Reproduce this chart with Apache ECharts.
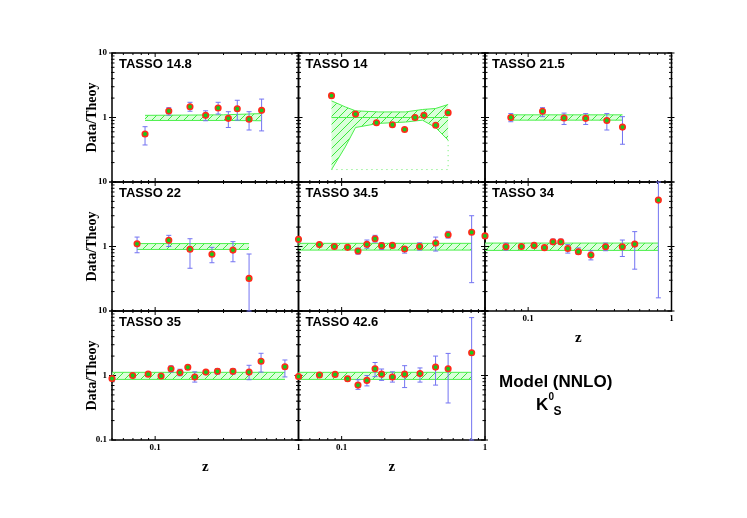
<!DOCTYPE html>
<html>
<head>
<meta charset="utf-8">
<script src="https://cdn.jsdelivr.net/npm/echarts@6.0.0/dist/echarts.min.js"></script>
<style>
  html, body { margin: 0; padding: 0; background: #fff; }
  #chart { width: 747px; height: 518px; }
</style>
</head>
<body>
<div id="chart"></div>
<script>
// ---- data ----
const panelNames = ["TASSO 14.8", "TASSO 14", "TASSO 21.5", "TASSO 22", "TASSO 34.5", "TASSO 34", "TASSO 35", "TASSO 42.6"];

const tasso148Z = [0.085, 0.1245, 0.175, 0.225, 0.275, 0.324, 0.374, 0.452, 0.553];
const tasso148V = [0.555, 1.26, 1.47, 1.08, 1.40, 0.97, 1.37, 0.94, 1.29];
const tasso148Lo = [0.375, 1.09, 1.25, 0.89, 1.13, 0.70, 0.91, 0.64, 0.62];
const tasso148Hi = [0.72, 1.42, 1.72, 1.27, 1.72, 1.23, 1.85, 1.23, 1.93];
const tasso148BandZ = [0.085, 0.3, 0.553];
const tasso148BandLo = [0.9, 0.9, 0.89];
const tasso148BandHi = [1.08, 1.1, 1.15];

const tasso14Z = [0.085, 0.125, 0.175, 0.226, 0.275, 0.325, 0.375, 0.453, 0.553];
const tasso14V = [2.18, 1.13, 0.83, 0.77, 0.65, 1.0, 1.08, 0.76, 1.19];
const tasso14Lo = [2.1, 1.09, 0.8, 0.74, 0.63, 0.97, 1.04, 0.73, 1.14];
const tasso14Hi = [2.26, 1.17, 0.86, 0.8, 0.67, 1.03, 1.12, 0.79, 1.24];
const tasso14BandZ = [0.085, 0.106, 0.125, 0.181, 0.279, 0.366, 0.452, 0.553];
const tasso14BandLo = [0.156, 0.35, 0.70, 0.81, 0.85, 0.91, 0.70, 0.445];
const tasso14BandHi = [1.81, 1.46, 1.27, 1.22, 1.22, 1.33, 1.38, 1.59];
const tasso14EdgeZ = [0.553, 0.553, 0.085];
const tasso14EdgeV = [0.445, 0.156, 0.156];

const tasso215Z = [0.0757, 0.126, 0.178, 0.252, 0.354, 0.455];
const tasso215V = [1.0, 1.25, 0.98, 0.97, 0.90, 0.71];
const tasso215Lo = [0.86, 1.03, 0.78, 0.78, 0.64, 0.385];
const tasso215Hi = [1.15, 1.42, 1.17, 1.15, 1.15, 1.03];
const tasso215BandZ = [0.0757, 0.455];
const tasso215BandLo = [0.91, 0.91];
const tasso215BandHi = [1.1, 1.1];

const tasso22Z = [0.0748, 0.1245, 0.175, 0.249, 0.349, 0.452];
const tasso22V = [1.10, 1.25, 0.905, 0.76, 0.88, 0.32];
const tasso22Lo = [0.80, 1.0, 0.46, 0.56, 0.58, 0.1];
const tasso22Hi = [1.40, 1.49, 1.32, 0.97, 1.19, 0.765];
const tasso22BandZ = [0.0748, 0.452];
const tasso22BandLo = [0.9, 0.9];
const tasso22BandHi = [1.11, 1.11];

const tasso345Z = [0.05, 0.070, 0.089, 0.110, 0.130, 0.150, 0.171, 0.190, 0.226, 0.275, 0.35, 0.453, 0.553, 0.807];
const tasso345V = [1.29, 1.07, 1.0, 0.97, 0.85, 1.08, 1.32, 1.03, 1.04, 0.915, 1.0, 1.13, 1.52, 1.66];
const tasso345Lo = [1.18, 1.02, 0.96, 0.93, 0.76, 0.94, 1.17, 0.90, 0.99, 0.79, 0.88, 0.85, 1.35, 0.275];
const tasso345Hi = [1.40, 1.12, 1.04, 1.01, 0.94, 1.26, 1.49, 1.14, 1.09, 1.0, 1.14, 1.40, 1.72, 3.0];
const tasso345BandZ = [0.05, 0.807];
const tasso345BandLo = [0.88, 0.88];
const tasso345BandHi = [1.12, 1.12];

const tasso34Z = [0.05, 0.070, 0.0897, 0.110, 0.130, 0.149, 0.169, 0.189, 0.224, 0.274, 0.347, 0.454, 0.554, 0.81];
const tasso34V = [1.46, 0.99, 1.0, 1.04, 0.96, 1.18, 1.18, 0.93, 0.83, 0.74, 0.99, 0.99, 1.09, 5.24];
const tasso34Lo = [1.36, 0.88, 0.95, 0.96, 0.91, 1.08, 1.08, 0.79, 0.76, 0.62, 0.86, 0.70, 0.445, 0.16];
const tasso34Hi = [1.56, 1.13, 1.05, 1.12, 1.01, 1.30, 1.30, 1.07, 0.95, 0.86, 1.13, 1.26, 1.70, 10];
const tasso34BandZ = [0.05, 0.81];
const tasso34BandLo = [0.87, 0.87];
const tasso34BandHi = [1.13, 1.13];

const tasso35Z = [0.05, 0.0697, 0.0894, 0.110, 0.129, 0.149, 0.169, 0.189, 0.226, 0.272, 0.349, 0.452, 0.548, 0.804];
const tasso35V = [0.90, 1.0, 1.05, 0.98, 1.27, 1.11, 1.34, 0.95, 1.13, 1.16, 1.16, 1.13, 1.66, 1.37];
const tasso35Lo = [0.86, 0.96, 1.0, 0.94, 1.13, 0.99, 1.25, 0.79, 1.07, 1.05, 1.05, 0.86, 1.13, 0.95];
const tasso35Hi = [0.94, 1.04, 1.10, 1.02, 1.41, 1.25, 1.44, 1.14, 1.19, 1.28, 1.28, 1.44, 2.21, 1.74];
const tasso35BandZ = [0.05, 0.804];
const tasso35BandLo = [0.87, 0.87];
const tasso35BandHi = [1.12, 1.12];

const tasso426Z = [0.05, 0.070, 0.090, 0.110, 0.130, 0.150, 0.171, 0.190, 0.226, 0.275, 0.352, 0.452, 0.553, 0.807];
const tasso426V = [0.965, 1.02, 1.04, 0.89, 0.71, 0.84, 1.27, 1.05, 0.95, 1.05, 1.07, 1.35, 1.27, 2.25];
const tasso426Lo = [0.92, 0.97, 0.99, 0.82, 0.61, 0.69, 0.96, 0.84, 0.79, 0.65, 0.79, 0.71, 0.375, 0.1];
const tasso426Hi = [1.01, 1.07, 1.09, 0.97, 0.86, 1.0, 1.59, 1.26, 1.14, 1.42, 1.31, 2.0, 2.2, 7.9];
const tasso426BandZ = [0.05, 0.807];
const tasso426BandLo = [0.87, 0.87];
const tasso426BandHi = [1.12, 1.12];

const xTickLabels = ["0.1", "1"];
const yTickLabels = ["0.1", "1", "10"];

const panels = [
  { z: tasso148Z, v: tasso148V, lo: tasso148Lo, hi: tasso148Hi, bz: tasso148BandZ, blo: tasso148BandLo, bhi: tasso148BandHi },
  { z: tasso14Z, v: tasso14V, lo: tasso14Lo, hi: tasso14Hi, bz: tasso14BandZ, blo: tasso14BandLo, bhi: tasso14BandHi },
  { z: tasso215Z, v: tasso215V, lo: tasso215Lo, hi: tasso215Hi, bz: tasso215BandZ, blo: tasso215BandLo, bhi: tasso215BandHi },
  { z: tasso22Z, v: tasso22V, lo: tasso22Lo, hi: tasso22Hi, bz: tasso22BandZ, blo: tasso22BandLo, bhi: tasso22BandHi },
  { z: tasso345Z, v: tasso345V, lo: tasso345Lo, hi: tasso345Hi, bz: tasso345BandZ, blo: tasso345BandLo, bhi: tasso345BandHi },
  { z: tasso34Z, v: tasso34V, lo: tasso34Lo, hi: tasso34Hi, bz: tasso34BandZ, blo: tasso34BandLo, bhi: tasso34BandHi },
  { z: tasso35Z, v: tasso35V, lo: tasso35Lo, hi: tasso35Hi, bz: tasso35BandZ, blo: tasso35BandLo, bhi: tasso35BandHi },
  { z: tasso426Z, v: tasso426V, lo: tasso426Lo, hi: tasso426Hi, bz: tasso426BandZ, blo: tasso426BandLo, bhi: tasso426BandHi }
];

// ---- layout ----
const colX = [112, 298.5, 485];
const rowY = [53, 182, 311];
const W = 186.5, H = 129;
const X_MIN = 0.05, X_MAX = 1, Y_MIN = 0.1, Y_MAX = 10;
const serif = "'Liberation Serif', 'Times New Roman', serif";
const sans = "'Liberation Sans', Arial, sans-serif";

// hatch pattern for the theory band
const hatch = document.createElement("canvas");
hatch.width = 8;
hatch.height = 8;
const hc = hatch.getContext("2d");
hc.fillStyle = "rgba(205,255,205,0.75)";
hc.fillRect(0, 0, 8, 8);
hc.strokeStyle = "#3ae83a";
hc.lineWidth = 1;
hc.beginPath();
hc.moveTo(0, 8); hc.lineTo(8, 0);
hc.moveTo(-1, 1); hc.lineTo(1, -1);
hc.moveTo(7, 9); hc.lineTo(9, 7);
hc.stroke();
const hatchFill = { image: hatch, repeat: "repeat" };

// tick positions on a log axis (1..9 x 10^d)
function logTicks(min, max) {
  const out = [];
  for (let d = -3; d <= 2; d++) {
    for (let k = 1; k <= 9; k++) {
      const v = +(k * Math.pow(10, d)).toPrecision(3);
      if (v >= min - 1e-9 && v <= max + 1e-9) out.push({ v, major: k === 1 });
    }
  }
  return out;
}
const xTicks = logTicks(X_MIN, X_MAX);
const yTicks = logTicks(Y_MIN, Y_MAX);

function labelFmt(list) {
  return (v) => {
    const s = String(+v.toPrecision(2));
    return list.indexOf(s) >= 0 ? s : "";
  };
}

const chart = echarts.init(document.getElementById("chart"));

const grid = [], xAxis = [], yAxis = [], series = [], title = [];

panels.forEach((p, i) => {
  const r = Math.floor(i / 3), c = i % 3;
  grid.push({ left: colX[c], top: rowY[r], width: W, height: H, show: true,
    borderColor: "#000", borderWidth: 1.5, backgroundColor: "transparent" });

  const showX = i === 5 || i === 6 || i === 7;
  xAxis.push({
    gridIndex: i, type: "log", logBase: 10, min: X_MIN, max: X_MAX,
    axisLine: { show: false }, axisTick: { show: false }, splitLine: { show: false },
    axisLabel: { show: showX, formatter: labelFmt(xTickLabels), margin: 3,
      fontFamily: serif, fontWeight: "bold", fontSize: 9, color: "#000" },
    name: showX ? "z" : "", nameLocation: "middle", nameGap: 20, nameMoveOverlap: false,
    nameTextStyle: { fontFamily: serif, fontWeight: "bold", fontSize: 15, color: "#000" }
  });

  const showY = c === 0;
  const yLabels = r === 2 ? yTickLabels : yTickLabels.slice(1);
  yAxis.push({
    gridIndex: i, type: "log", logBase: 10, min: Y_MIN, max: Y_MAX,
    axisLine: { show: false }, axisTick: { show: false }, splitLine: { show: false },
    axisLabel: { show: showY, formatter: labelFmt(yLabels), margin: 5,
      fontFamily: serif, fontWeight: "bold", fontSize: 9, color: "#000" },
    name: showY ? "Data/Theoy" : "", nameLocation: "middle", nameGap: 13, nameRotate: 90,
    nameMoveOverlap: false,
    nameTextStyle: { fontFamily: serif, fontWeight: "bold", fontSize: 14, color: "#000" }
  });

  title.push({ text: panelNames[i], left: colX[c] + 7, top: rowY[r] + 5, padding: 0,
    textStyle: { fontFamily: sans, fontWeight: "bold", fontSize: 13, color: "#000" } });

  // theory band
  series.push({
    type: "custom", xAxisIndex: i, yAxisIndex: i, silent: true, z: 1,
    data: p.bz.map((z, k) => [z, p.blo[k], p.bhi[k]]),
    renderItem: (params, api) => {
      if (params.dataIndex !== 0) return;
      const top = p.bz.map((z, k) => api.coord([z, p.bhi[k]]));
      const bot = p.bz.map((z, k) => api.coord([z, p.blo[k]]));
      const children = [
        { type: "polygon", shape: { points: top.concat(bot.slice().reverse()) }, style: { fill: hatchFill } },
        { type: "polyline", shape: { points: top }, style: { stroke: "#4cf04c", lineWidth: 1, fill: null } },
        { type: "polyline", shape: { points: bot }, style: { stroke: "#4cf04c", lineWidth: 1, fill: null } }
      ];
      if (i === 1) {
        children.push({ type: "polyline",
          shape: { points: [api.coord([p.bz[0], 1]), api.coord([p.bz[p.bz.length - 1], 1])] },
          style: { stroke: "#4cf04c", lineWidth: 1, fill: null } });
        children.push({ type: "polyline",
          shape: { points: tasso14EdgeZ.map((z, k) => api.coord([z, tasso14EdgeV[k]])) },
          style: { stroke: "#66ee66", lineWidth: 1, lineDash: [1, 4], fill: null } });
      }
      return { type: "group", children };
    }
  });

  // frame ticks on all four sides
  series.push({
    type: "custom", xAxisIndex: i, yAxisIndex: i, silent: true, z: 2,
    data: [[X_MIN, Y_MIN]],
    renderItem: (params, api) => {
      const children = [];
      const seg = (x1, y1, x2, y2) => children.push({ type: "line",
        shape: { x1, y1, x2, y2 }, style: { stroke: "#000", lineWidth: 1 } });
      xTicks.forEach((t) => {
        const b = api.coord([t.v, Y_MIN]), tp = api.coord([t.v, Y_MAX]);
        const L = t.major ? 4 : 2;
        seg(b[0], b[1], b[0], b[1] - L);
        seg(tp[0], tp[1], tp[0], tp[1] + L);
      });
      yTicks.forEach((t) => {
        const l = api.coord([X_MIN, t.v]), rt = api.coord([X_MAX, t.v]);
        const L = t.major ? 4 : 2.5;
        seg(l[0] - (t.major ? 3 : 1), l[1], l[0] + L, l[1]);
        seg(rt[0] + (t.major ? 3 : 1), rt[1], rt[0] - L, rt[1]);
      });
      return { type: "group", children };
    }
  });

  // error bars
  series.push({
    type: "custom", xAxisIndex: i, yAxisIndex: i, silent: true, z: 3,
    data: p.z.map((z, k) => [z, p.lo[k], p.hi[k]]),
    renderItem: (params, api) => {
      const a = api.coord([api.value(0), api.value(1)]);
      const b = api.coord([api.value(0), api.value(2)]);
      const st = { stroke: "#7373f2", lineWidth: 1 };
      return { type: "group", children: [
        { type: "line", shape: { x1: a[0], y1: a[1], x2: b[0], y2: b[1] }, style: st },
        { type: "line", shape: { x1: a[0] - 2.5, y1: a[1], x2: a[0] + 2.5, y2: a[1] }, style: st },
        { type: "line", shape: { x1: b[0] - 2.5, y1: b[1], x2: b[0] + 2.5, y2: b[1] }, style: st }
      ] };
    }
  });

  // data points
  series.push({
    type: "scatter", xAxisIndex: i, yAxisIndex: i, clip: false, silent: true, z: 4,
    symbol: "circle", symbolSize: 5.5,
    itemStyle: { color: "#19c919", borderColor: "#ff2a1a", borderWidth: 1.6, opacity: 1 },
    data: p.z.map((z, k) => [z, p.v[k]])
  });
});

chart.setOption({
  animation: false,
  backgroundColor: "#fff",
  title,
  grid,
  xAxis,
  yAxis,
  series,
  graphic: [
    { type: "text", left: 499, top: 374,
      style: { text: "Model (NNLO)", font: "bold 17px " + sans, fill: "#000" } },
    { type: "text", left: 536, top: 397,
      style: { text: "K", font: "bold 17px " + sans, fill: "#000" } },
    { type: "text", left: 548.5, top: 392,
      style: { text: "0", font: "bold 10px " + sans, fill: "#000" } },
    { type: "text", left: 553.5, top: 406,
      style: { text: "S", font: "bold 12px " + sans, fill: "#000" } }
  ]
});
</script>
</body>
</html>
